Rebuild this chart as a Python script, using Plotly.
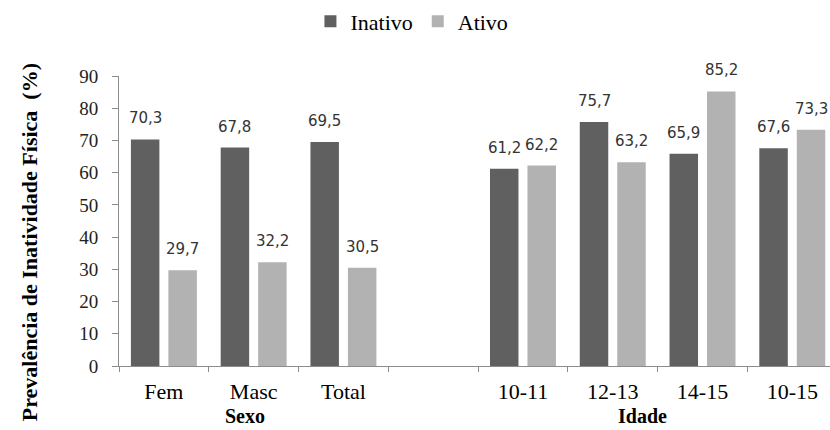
import plotly.graph_objects as go

# Categories: sex groups, an empty spacer slot, then age groups
categorias = ["Fem", "Masc", "Total", " ", "10-11", "12-13", "14-15", "10-15"]
inativo = [70.3, 67.8, 69.5, None, 61.2, 75.7, 65.9, 67.6]
ativo = [29.7, 32.2, 30.5, None, 62.2, 63.2, 85.2, 73.3]
y_ticks = [0, 10, 20, 30, 40, 50, 60, 70, 80, 90]
grupos = ["Sexo", "Idade"]
grupo_pos = [0.9, 5.33]
titulo_y = "Prevalência de Inatividade Física  (%)"

COR_INATIVO = "#606060"
COR_ATIVO = "#b2b2b2"
SERIF = "Liberation Serif"

BARGAP = 0.165
BARGROUPGAP = 0.24


def rotulo(v):
    return f"{v:.1f}".replace(".", ",")


fig = go.Figure()
fig.add_trace(go.Bar(name="Inativo", x=categorias, y=inativo,
                     marker=dict(color=COR_INATIVO, line=dict(width=0))))
fig.add_trace(go.Bar(name="Ativo", x=categorias, y=ativo,
                     marker=dict(color=COR_ATIVO, line=dict(width=0))))

# value labels above each bar
desloc = (1 - BARGAP) / 4
annotations = []
for i, (a, b) in enumerate(zip(inativo, ativo)):
    for v, dx in ((a, -desloc), (b, desloc)):
        if v is None:
            continue
        annotations.append(dict(
            x=i + dx, y=v, xref="x", yref="y", text=rotulo(v),
            showarrow=False, yanchor="bottom", xanchor="center", yshift=10,
            font=dict(family="DejaVu Sans", size=15, color="#333333")))

# group titles under the category labels
for g, p in zip(grupos, grupo_pos):
    annotations.append(dict(
        x=p, y=-0.2184, xref="x", yref="paper", text=f"<b>{g}</b>",
        showarrow=False, yanchor="bottom", xanchor="center",
        font=dict(family=SERIF, size=20, color="#000000")))

# vertical axis title
annotations.append(dict(
    x=-0.1266, y=0.4266, xref="paper", yref="paper", text=f"<b>{titulo_y}</b>",
    showarrow=False, textangle=-90, xanchor="center", yanchor="middle",
    font=dict(family=SERIF, size=22, color="#000000")))

fig.update_layout(
    width=830, height=430,
    margin=dict(l=119, r=0, t=73, b=64),
    paper_bgcolor="white", plot_bgcolor="white",
    barmode="group", bargap=BARGAP, bargroupgap=BARGROUPGAP,
    showlegend=True,
    legend=dict(orientation="h", x=0.412, xanchor="center", y=1.188, yanchor="middle",
                font=dict(family=SERIF, size=22, color="#000000"),
                itemwidth=30, tracegroupgap=0),
    annotations=annotations,
)

fig.update_xaxes(
    type="category", range=[-0.5, 7.42],
    showline=True, linecolor="#8c8c8c", linewidth=1,
    ticks="outside", tickson="boundaries", ticklen=5, tickcolor="#8c8c8c",
    showgrid=False, zeroline=False,
    tickfont=dict(family=SERIF, size=22, color="#000000"),
    ticklabelstandoff=6,
    automargin=False,
)
fig.update_yaxes(
    range=[0, 90], tickvals=y_ticks,
    showline=True, linecolor="#8c8c8c", linewidth=1,
    ticks="outside", ticklen=6, tickcolor="#8c8c8c",
    showgrid=False, zeroline=False,
    tickfont=dict(family=SERIF, size=19, color="#222222"),
    ticklabelstandoff=10,
    automargin=False,
)

fig.write_html("out.html")
